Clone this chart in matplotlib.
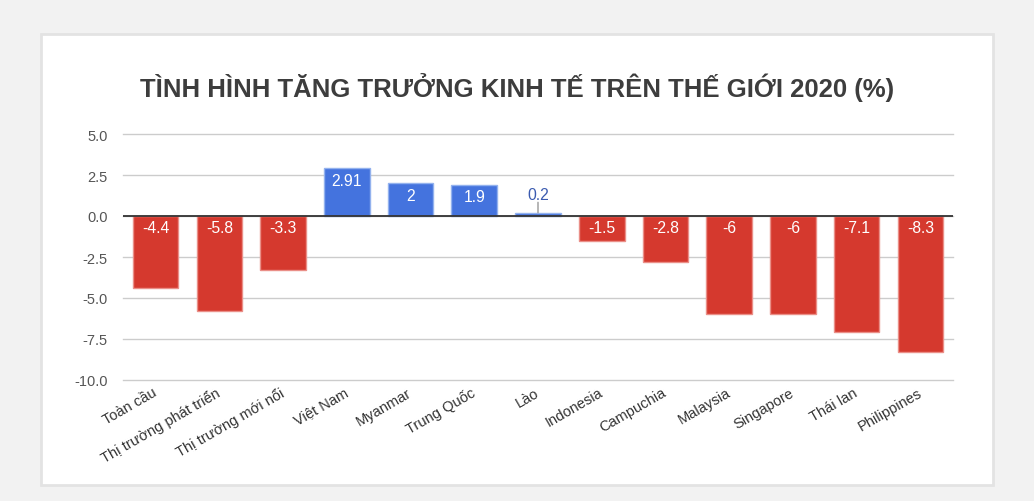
import matplotlib
matplotlib.use("Agg")
import matplotlib.pyplot as plt
from matplotlib.patches import Rectangle

plt.rcParams['font.family'] = ['Liberation Sans', 'DejaVu Sans']

# Data
categories = ["Toàn cầu", "Thị trường phát triển", "Thị trường mới nổi", "Việt Nam",
              "Myanmar", "Trung Quốc", "Lào", "Indonesia", "Campuchia", "Malaysia",
              "Singapore", "Thái lan", "Philippines"]
values = [-4.4, -5.8, -3.3, 2.91, 2, 1.9, 0.2, -1.5, -2.8, -6, -6, -7.1, -8.3]
value_labels = ["-4.4", "-5.8", "-3.3", "2.91", "2", "1.9", "0.2", "-1.5", "-2.8",
                "-6", "-6", "-7.1", "-8.3"]
yticks = [5.0, 2.5, 0.0, -2.5, -5.0, -7.5, -10.0]
title = "TÌNH HÌNH TĂNG TRƯỞNG KINH TẾ TRÊN THẾ GIỚI 2020 (%)"

RED, RED_EDGE = "#d5392e", "#ea8f88"
BLUE, BLUE_EDGE = "#4473de", "#93b2ee"

fig = plt.figure(figsize=(10.34, 5.02), dpi=100, facecolor="#f2f2f2")

# White card behind the chart
fig.patches.append(Rectangle((41 / 1034, 1 - 486 / 502), 952 / 1034, 451 / 502,
                             transform=fig.transFigure, facecolor="white",
                             edgecolor="#e3e3e3", linewidth=2, zorder=-1))

ax = fig.add_axes([123 / 1034, 1 - 381 / 502, 830 / 1034, 246 / 502])
ax.set_zorder(2)
ax.set_facecolor("none")

x = list(range(len(categories)))
colors = [BLUE if v >= 0 else RED for v in values]
edges = [BLUE_EDGE if v >= 0 else RED_EDGE for v in values]
ax.bar(x, values, width=0.714, color=colors, edgecolor=edges, linewidth=1, zorder=3)

ax.set_xlim(-0.51, len(categories) - 0.49)
ax.set_ylim(-10, 5)
ax.set_yticks(yticks)
ax.set_yticklabels([f"{t:.1f}" for t in yticks], fontsize=10.5, color="#555555")
ax.tick_params(axis="y", length=0, pad=11)
ax.set_xticks(x)
ax.set_xticklabels(categories, rotation=30, ha="right", va="center",
                   rotation_mode="anchor", fontsize=10.5, color="#333333")
ax.tick_params(axis="x", length=0, pad=8)

ax.grid(axis="y", color="#cccccc", linewidth=1, zorder=0)
for gl in ax.get_ygridlines():
    gl.set_clip_on(False)
ax.axhline(0, color="#333333", linewidth=1.3, zorder=4)
for s in ax.spines.values():
    s.set_visible(False)

# Value labels
for xi, v, lab in zip(x, values, value_labels):
    top = max(v, 0)
    if abs(v) >= 1:
        ax.annotate(lab, (xi, top), xytext=(0, -8.5), textcoords="offset points",
                    ha="center", va="center", color="white", fontsize=11.3, zorder=5)
    else:
        ax.annotate(lab, (xi, top), xytext=(0, 13), textcoords="offset points",
                    ha="center", va="center", color="#3b5bb0", fontsize=11.3, zorder=5)
        ax.annotate("", (xi, top), xytext=(0, 7.5), textcoords="offset points",
                    arrowprops=dict(arrowstyle="-", color="#999999", lw=1,
                                    shrinkA=0, shrinkB=0), zorder=5)

fig.text(0.5, 1 - 88 / 502, title, ha="center", va="center", fontsize=18.5,
         fontweight="bold", color="#3d3d3d")

fig.savefig("out.png", dpi=100, facecolor=fig.get_facecolor())
